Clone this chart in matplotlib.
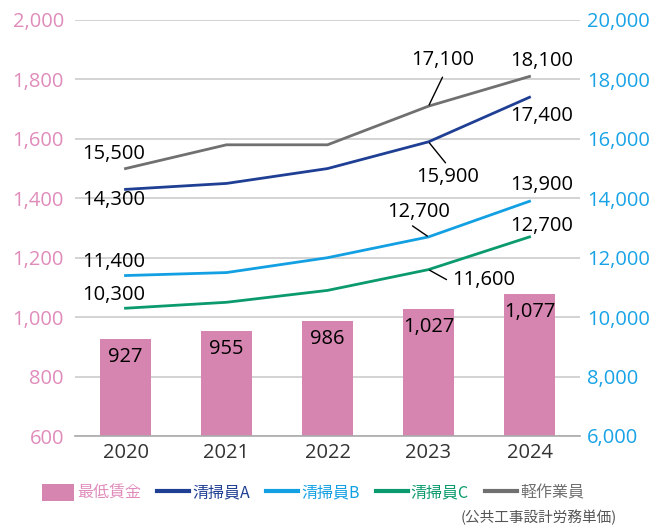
import matplotlib
matplotlib.use("Agg")
import matplotlib.pyplot as plt
from matplotlib.patches import Patch
from matplotlib.lines import Line2D

plt.rcParams['font.family'] = ['Open Sans', 'Noto Sans CJK JP', 'DejaVu Sans']

years = ["2020", "2021", "2022", "2023", "2024"]
min_wage = [927, 955, 986, 1027, 1077]
cleaner_a = [14300, 14500, 15000, 15900, 17400]
cleaner_b = [11400, 11500, 12000, 12700, 13900]
cleaner_c = [10300, 10500, 10900, 11600, 12700]
light_work = [15000, 15800, 15800, 17100, 18100]

left_ticks = [600, 800, 1000, 1200, 1400, 1600, 1800, 2000]
right_ticks = [6000, 8000, 10000, 12000, 14000, 16000, 18000, 20000]

# labelled points: (index, text, dx px, dy px, leader end offset or None)
labels_a = [(0, "14,300", -12, -11, None), (3, "15,900", 19, -35, (17, -21)), (4, "17,400", 12, -19, None)]
labels_b = [(0, "11,400", -12, 14, None), (3, "12,700", -10, 25, (-16, 11)), (4, "13,900", 12, 16, None)]
labels_c = [(0, "10,300", -12, 13, None), (3, "11,600", 55, -10, (18, -10)), (4, "12,700", 12, 11, None)]
labels_g = [(0, "15,500", -12, 15, None), (3, "17,100", 14, 46, (14, 29)), (4, "18,100", 12, 15, None)]

PINK = "#d685b0"
PINK_TXT = "#e08cbb"
NAVY = "#1f3f94"
SKY = "#12a0e3"
GREEN = "#0b9a6e"
GRAY = "#707070"
SKY_TXT = "#19a3e6"
FS = 14.5

fig = plt.figure(figsize=(6.62, 5.26), dpi=100)
ax = fig.add_axes([75/662, 1-436/526, 505/662, 416/526])
x = list(range(len(years)))

ax.set_ylim(600, 2000)
ax.set_xlim(-0.5, 4.5)
ax.set_yticks(left_ticks)
ax.set_yticklabels([f"{v:,}" for v in left_ticks])
ax.grid(axis='y', color='#cccccc', linewidth=1.2, zorder=0)
ax.set_axisbelow(True)
ax.bar(x, min_wage, width=0.5, color=PINK, zorder=2)
for xi, v in zip(x, min_wage):
    ax.annotate(f"{v:,}", (xi, v), xytext=(0, -18), textcoords='offset pixels',
                ha='center', va='center', fontsize=FS, color='black', zorder=5)

ax.set_xticks(x)
ax.set_xticklabels(years, fontsize=FS, color='#333333')
ax.tick_params(axis='x', length=0, pad=5)
ax.tick_params(axis='y', length=0, pad=8, labelsize=FS, labelcolor=PINK_TXT)
for s in ['top', 'right', 'left']:
    ax.spines[s].set_visible(False)
ax.spines['bottom'].set_color('#aaaaaa')
ax.spines['bottom'].set_linewidth(1.2)

ax2 = ax.twinx()
ax2.set_ylim(6000, 20000)
ax2.set_yticks(right_ticks)
ax2.set_yticklabels([f"{v:,}" for v in right_ticks])
ax2.tick_params(axis='y', length=0, pad=5, labelsize=FS, labelcolor=SKY_TXT)
for s in ['top', 'right', 'left', 'bottom']:
    ax2.spines[s].set_visible(False)

series = [(light_work, GRAY, labels_g), (cleaner_a, NAVY, labels_a),
          (cleaner_b, SKY, labels_b), (cleaner_c, GREEN, labels_c)]
for vals, col, labs in series:
    ax2.plot(x, vals, color=col, linewidth=2, zorder=3)
for vals, col, labs in series:
    for i, txt, dx, dy, leader in labs:
        ax2.annotate(txt, (x[i], vals[i]), xytext=(dx, dy), textcoords='offset pixels',
                     ha='center', va='center', fontsize=FS, color='black', zorder=6)
        if leader is not None:
            ax2.annotate("", (x[i], vals[i]), xytext=leader, textcoords='offset pixels',
                         arrowprops=dict(arrowstyle='-', color='black', lw=1,
                                         shrinkA=0, shrinkB=1))

handles = [Patch(facecolor=PINK, edgecolor='none'),
           Line2D([], [], color=NAVY, lw=3),
           Line2D([], [], color=SKY, lw=3),
           Line2D([], [], color=GREEN, lw=3),
           Line2D([], [], color=GRAY, lw=3)]
names = ["最低賃金", "清掃員A", "清掃員B", "清掃員C", "軽作業員"]
leg = fig.legend(handles, names, loc='center', bbox_to_anchor=(313/662, 1-493/526), ncol=5,
                 frameon=False, fontsize=11.5, handlelength=2.0, handletextpad=0.2,
                 columnspacing=1.0, handleheight=1.2,
                 prop={'family': ['Noto Sans CJK JP', 'DejaVu Sans'], 'size': 11.5})
for t, c in zip(leg.get_texts(), [PINK_TXT, NAVY, SKY, GREEN, GRAY]):
    t.set_color(c)

fig.text(617/662, 1-517/526, "(公共工事設計労務単価)", ha='right', va='center', fontsize=10.5,
         color='#555555', family=['Noto Sans CJK JP', 'DejaVu Sans'])

fig.savefig("out.png", dpi=100)
